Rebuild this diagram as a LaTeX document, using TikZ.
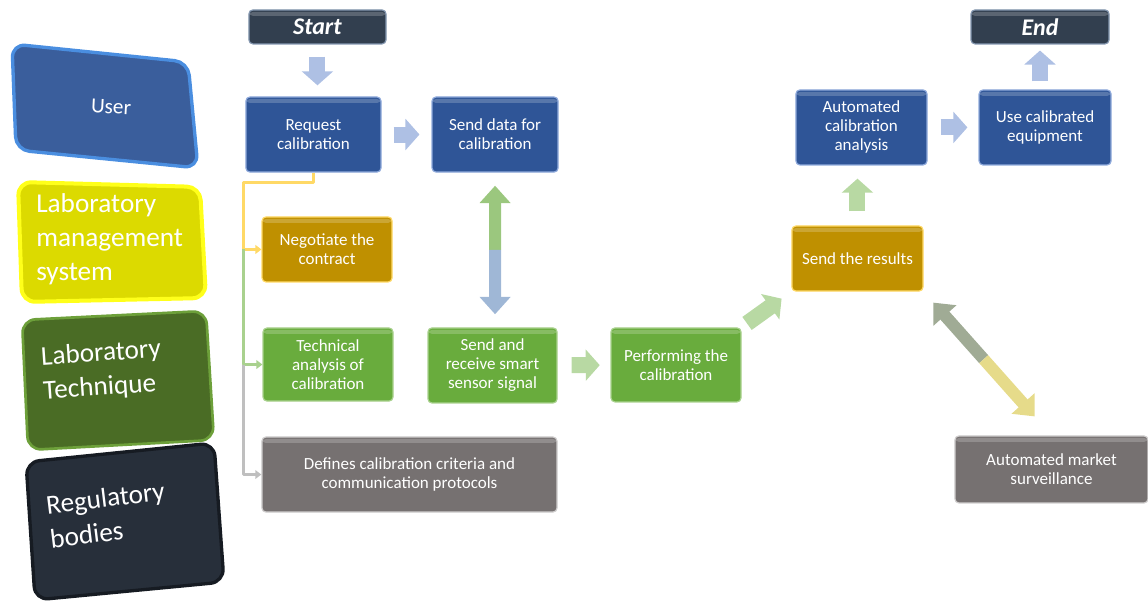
\documentclass[tikz,border=0pt]{standalone}
\usepackage{fontspec}
\setmainfont{Carlito}
\usetikzlibrary{arrows.meta,calc}

\definecolor{cSlate}{HTML}{323F4F}
\definecolor{cSlateRim}{HTML}{8497B0}
\definecolor{cBlue}{HTML}{2F5597}
\definecolor{cBlueRim}{HTML}{8FAADC}
\definecolor{cGold}{HTML}{BF9000}
\definecolor{cGoldRim}{HTML}{FFD966}
\definecolor{cGreen}{HTML}{69AC3D}
\definecolor{cGreenRim}{HTML}{A9D18E}
\definecolor{cGrey}{HTML}{767171}
\definecolor{cGreyRim}{HTML}{D0CECE}
\definecolor{cArrBlue}{HTML}{AEC0E4}
\definecolor{cArrGreen}{HTML}{B8D9A3}
\definecolor{cLinkGreen}{HTML}{9BC77E}
\definecolor{cLinkBlue}{HTML}{9FB7D6}
\definecolor{cSurvGrey}{HTML}{A0AB95}
\definecolor{cSurvYellow}{HTML}{E6DB8A}
\definecolor{cBusYellow}{HTML}{FFD966}
\definecolor{cBusGreen}{HTML}{A9D18E}
\definecolor{cBusGrey}{HTML}{BFBFBF}
\definecolor{cLaneUser}{HTML}{3A5E9C}
\definecolor{cLaneUserRim}{HTML}{4A8EE0}
\definecolor{cLaneLms}{HTML}{DCDA00}
\definecolor{cLaneLmsRim}{HTML}{FFFF1A}
\definecolor{cLaneTech}{HTML}{4A6C25}
\definecolor{cLaneTechRim}{HTML}{6DA03A}
\definecolor{cLaneReg}{HTML}{272F3A}
\definecolor{cLaneRegRim}{HTML}{161B22}

\tikzset{
  flowbox/.style={draw, rounded corners=3bp, line width=0.9bp, text=white, align=center,
    font=\fontsize{12.8}{14.3}\selectfont, inner sep=1bp,
    path picture={\fill[white,opacity=0.2] ([yshift=-1.5bp]path picture bounding box.north west)
      rectangle ([yshift=-4.5bp]path picture bounding box.north east);}},
  userbox/.style={flowbox, fill=cBlue, draw=cBlueRim},
  lmsbox/.style={flowbox, fill=cGold, draw=cGoldRim},
  techbox/.style={flowbox, fill=cGreen, draw=cGreenRim},
  regbox/.style={flowbox, fill=cGrey, draw=cGreyRim},
  termbox/.style={flowbox, fill=cSlate, draw=cSlateRim, font=\fontsize{18}{20}\selectfont\bfseries\itshape},
  lane/.style={rounded corners=10bp, line width=2.5bp},
  lanetext/.style={text=white, align=left, inner sep=0pt, font=\fontsize{20.5}{25.5}\selectfont},
  fatarrow/.style={line width=12bp, -{Triangle[length=10.5bp,width=23bp]}},
  dblhalf/.style={line width=9bp, -{Triangle[length=13bp,width=22.5bp]}},
  busline/.style={line width=2.2bp, -{Triangle[length=4.5bp,width=6.5bp]}},
}

\begin{document}
\begin{tikzpicture}[>=latex,line join=round,]
\useasboundingbox (0bp,0bp) rectangle (861bp,451.5bp);
%% swim lanes
\draw [lane,fill=cLaneUser,draw=cLaneUserRim] (9bp,418.5bp) -- (141bp,405bp) -- (148.5bp,325.5bp) -- (12bp,339bp) -- cycle;
\draw [lane,fill=cLaneLms,draw=cLaneLmsRim,line width=3bp] (13.5bp,315bp) -- (150bp,311.3bp) -- (154.5bp,228bp) -- (16.5bp,225bp) -- cycle;
\draw [lane,fill=cLaneTech,draw=cLaneTechRim,line width=2bp] (16.5bp,211.5bp) -- (154.5bp,218.3bp) -- (160.5bp,121.5bp) -- (21bp,114bp) -- cycle;
\draw [lane,fill=cLaneReg,draw=cLaneRegRim] (19.5bp,105bp) -- (160.5bp,119.3bp) -- (168bp,15bp) -- (26.3bp,1.5bp) -- cycle;
\node (lane_user) at (83.3bp,371.3bp) [lanetext,font=\fontsize{16}{19}\selectfont,rotate=-3] {User};
\node (lane_lms) at (27bp,272.2bp) [lanetext,anchor=west] {Laboratory\\management\\system};
\node (lane_tech) at (31.5bp,170.3bp) [lanetext,anchor=west,rotate=4] {Laboratory\\Technique};
\node (lane_reg) at (36bp,60bp) [lanetext,anchor=west,rotate=7] {Regulatory\\bodies};
%% process boxes
\node (start) at (238.1bp,431.3bp) [termbox,minimum width=102.8bp,minimum height=25.5bp] {Start};
\node (end) at (780bp,431.3bp) [termbox,minimum width=103.5bp,minimum height=25.5bp] {End};
\node (request) at (235.1bp,350.6bp) [userbox,minimum width=101.3bp,minimum height=56.3bp] {Request\\calibration};
\node (senddata) at (371.3bp,350.6bp) [userbox,minimum width=94.5bp,minimum height=56.3bp] {Send data for\\calibration};
\node (autoanalysis) at (646.1bp,355.9bp) [userbox,minimum width=98.3bp,minimum height=56.3bp] {Automated\\calibration\\analysis};
\node (useequip) at (783.8bp,355.9bp) [userbox,minimum width=99bp,minimum height=56.3bp] {Use calibrated\\equipment};
\node (negotiate) at (245.3bp,264.4bp) [lmsbox,minimum width=97.5bp,minimum height=48.8bp] {Negotiate the\\contract};
\node (sendresults) at (643.1bp,257.6bp) [lmsbox,minimum width=98.3bp,minimum height=48.8bp] {Send the results};
\node (technical) at (246bp,178.1bp) [techbox,minimum width=97.5bp,minimum height=54.8bp] {Technical\\analysis of\\calibration};
\node (sendrecv) at (369.4bp,177.4bp) [techbox,minimum width=96.8bp,minimum height=56.3bp] {Send and\\receive smart\\sensor signal};
\node (performing) at (507bp,177.8bp) [techbox,minimum width=97.5bp,minimum height=55.5bp] {Performing the\\calibration};
\node (defines) at (307.1bp,95.6bp) [regbox,minimum width=221.3bp,minimum height=56.3bp] {Defines calibration criteria and\\communication protocols};
\node (market) at (788.6bp,99.4bp) [regbox,minimum width=144.8bp,minimum height=50.3bp] {Automated market\\surveillance};
%% branch from the request
\coordinate (bus) at (182.3bp,314.3bp);
\draw [busline,cBusYellow] (request.south) |- (bus) |- (negotiate.west);
\draw [busline,cBusGreen] (bus |- negotiate.west) |- (technical.west);
\draw [busline,cBusGrey] (bus |- technical.west) |- (defines.west);
%% flow arrows
\draw [fatarrow,cArrBlue,shorten <=9bp,shorten >=8.3bp] (start.south) -- (start.south |- request.north);
\draw [fatarrow,cArrBlue,shorten <=9bp,shorten >=9bp] (request) -- (senddata);
\draw [fatarrow,cArrGreen,shorten <=10.5bp,shorten >=8bp] (sendrecv) -- (performing);
\draw [fatarrow,cArrGreen,shorten <=5bp,shorten >=9bp] (performing.north east) -- (sendresults.south west);
\draw [fatarrow,cArrGreen,shorten <=10.5bp,shorten >=9.8bp] (sendresults.north) -- (sendresults.north |- autoanalysis.south);
\draw [fatarrow,cArrBlue,shorten <=9.8bp,shorten >=8.3bp] (autoanalysis) -- (useequip);
\draw [fatarrow,cArrBlue,shorten <=6bp,shorten >=4.5bp] (end.south |- useequip.north) -- (end.south);
%% two-way links
\coordinate (link_mid) at ($(senddata.south)!0.5!(senddata.south |- sendrecv.north)$);
\draw [dblhalf,cLinkGreen,shorten >=9.8bp] (link_mid) -- (senddata.south);
\draw [dblhalf,cLinkBlue,shorten >=9.8bp] (link_mid) -- (senddata.south |- sendrecv.north);
\coordinate (surv_mid) at ($(sendresults.south east)!0.47!(market.north)$);
\draw [dblhalf,cSurvGrey,shorten >=11bp] (surv_mid) -- (sendresults.south east);
\draw [dblhalf,cSurvYellow,shorten >=19bp] (surv_mid) -- (market.north);
%
\end{tikzpicture}
\end{document}
